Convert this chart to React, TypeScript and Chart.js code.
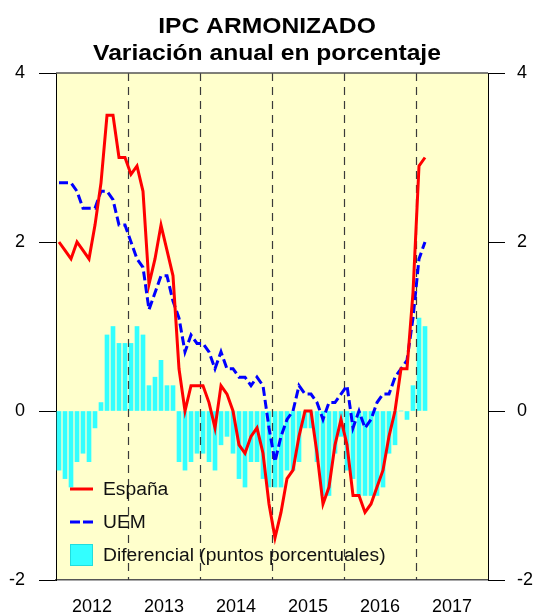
import React, { useEffect, useRef } from 'react';
import { Chart, registerables } from 'chart.js';

Chart.register(...registerables);

const years = ['2012', '2013', '2014', '2015', '2016', '2017'];

// Monthly values, Jan 2012 .. Feb 2017
const espana = [
  2.0, 1.9, 1.8, 2.0, 1.9, 1.8, 2.2, 2.7, 3.5, 3.5, 3.0, 3.0,
  2.8, 2.9, 2.6, 1.5, 1.8, 2.2, 1.9, 1.6, 0.5, 0.0, 0.3, 0.3,
  0.3, 0.1, -0.2, 0.3, 0.2, 0.0, -0.4, -0.5, -0.3, -0.2, -0.5, -1.1,
  -1.5, -1.2, -0.8, -0.7, -0.3, 0.0, 0.0, -0.5, -1.1, -0.9, -0.4, -0.1,
  -0.4, -1.0, -1.0, -1.2, -1.1, -0.9, -0.7, -0.3, 0.0, 0.5, 0.5, 1.4,
  2.9, 3.0,
];
const uem = [
  2.7, 2.7, 2.7, 2.6, 2.4, 2.4, 2.4, 2.6, 2.6, 2.5, 2.2, 2.2,
  2.0, 1.8, 1.7, 1.2, 1.4, 1.6, 1.6, 1.3, 1.1, 0.7, 0.9, 0.8,
  0.8, 0.7, 0.5, 0.7, 0.5, 0.5, 0.4, 0.4, 0.3, 0.4, 0.3, -0.2,
  -0.6, -0.3, -0.1, 0.0, 0.3, 0.2, 0.2, 0.1, -0.1, 0.1, 0.1, 0.2,
  0.3, -0.2, 0.0, -0.2, -0.1, 0.1, 0.2, 0.2, 0.4, 0.5, 0.6, 1.1,
  1.8, 2.0,
];
const diferencial = [
  -0.7, -0.8, -0.9, -0.6, -0.5, -0.6, -0.2, 0.1, 0.9, 1.0, 0.8, 0.8,
  0.8, 1.0, 0.9, 0.3, 0.4, 0.6, 0.3, 0.3, -0.6, -0.7, -0.6, -0.5,
  -0.5, -0.6, -0.7, -0.4, -0.3, -0.5, -0.8, -0.9, -0.6, -0.6, -0.8, -0.9,
  -0.9, -0.9, -0.7, -0.7, -0.6, -0.2, -0.2, -0.6, -1.0, -1.0, -0.5, -0.3,
  -0.7, -0.8, -1.0, -1.0, -1.0, -1.0, -0.9, -0.5, -0.4, 0.0, -0.1, 0.3,
  1.1, 1.0,
];
const yTicks = [-2, 0, 2, 4];
const titleLines = ['IPC ARMONIZADO', 'Variación anual en porcentaje'];
const legendLabels = ['España', 'UEM', 'Diferencial (puntos porcentuales)'];

const FONT = "'Liberation Sans', Arial, Helvetica, sans-serif";
const RED = '#ff0000';
const BLUE = '#0000ff';
const CYAN = '#33ffff';
const BG = '#ffffcc';

const decorPlugin = {
  id: 'decor',
  beforeDraw(chart: any) {
    const { ctx, chartArea } = chart;
    ctx.save();
    ctx.fillStyle = BG;
    ctx.fillRect(chartArea.left, chartArea.top, chartArea.right - chartArea.left, chartArea.bottom - chartArea.top);
    ctx.restore();
  },
  afterDatasetDraw(chart: any, args: any) {
    if (args.index !== 2) return;
    const { ctx, chartArea } = chart;
    const xs = chart.scales.x;
    ctx.save();
    ctx.strokeStyle = '#3a3a3a';
    ctx.lineWidth = 1.2;
    ctx.setLineDash([8, 6]);
    for (let k = 1; k < years.length; k++) {
      const px = Math.round(xs.getPixelForValue(k * 12)) + 0.5;
      ctx.beginPath();
      ctx.moveTo(px, chartArea.top);
      ctx.lineTo(px, chartArea.bottom);
      ctx.stroke();
    }
    ctx.restore();
  },
  afterDraw(chart: any) {
    const { ctx, chartArea } = chart;
    ctx.save();
    // top frame line
    ctx.strokeStyle = '#555555';
    ctx.lineWidth = 1.5;
    ctx.beginPath();
    ctx.moveTo(chartArea.left, chartArea.top);
    ctx.lineTo(chartArea.right, chartArea.top);
    ctx.stroke();

    // legend
    ctx.font = `18px ${FONT}`;
    ctx.textBaseline = 'middle';
    ctx.textAlign = 'left';
    const lx = 70;
    const lw = 23;
    const tx = 103;
    const rows = [489, 522, 555];
    ctx.lineWidth = 3;
    ctx.strokeStyle = RED;
    ctx.beginPath();
    ctx.moveTo(lx, rows[0]);
    ctx.lineTo(lx + lw, rows[0]);
    ctx.stroke();
    ctx.strokeStyle = BLUE;
    ctx.setLineDash([10, 3]);
    ctx.beginPath();
    ctx.moveTo(lx, rows[1]);
    ctx.lineTo(lx + lw, rows[1]);
    ctx.stroke();
    ctx.setLineDash([]);
    ctx.fillStyle = CYAN;
    ctx.fillRect(lx, rows[2] - 11, lw, 22);
    ctx.strokeStyle = '#22dddd';
    ctx.lineWidth = 1;
    ctx.strokeRect(lx + 0.5, rows[2] - 10.5, lw - 1, 21);
    ctx.fillStyle = '#111111';
    legendLabels.forEach((t, i) => {
      ctx.save();
      ctx.translate(tx, rows[i] + 1);
      ctx.scale(1.07, 1);
      ctx.fillText(t, 0, 0);
      ctx.restore();
    });

    // title
    ctx.fillStyle = '#000000';
    ctx.font = `bold 22px ${FONT}`;
    ctx.textAlign = 'center';
    ctx.textBaseline = 'alphabetic';
    const baselines = [33, 60];
    titleLines.forEach((t, i) => {
      ctx.save();
      ctx.translate(267, baselines[i]);
      ctx.scale(1.12, 1);
      ctx.fillText(t, 0, 0);
      ctx.restore();
    });
    ctx.restore();
  },
};

export default function App() {
  const ref = useRef<HTMLCanvasElement | null>(null);

  useEffect(() => {
    document.body.style.margin = '0';
    const canvas = ref.current;
    if (!canvas) return;
    const toXY = (arr: number[]) => arr.map((v, i) => ({ x: i + 0.5, y: v }));
    const yAxisCommon = {
      type: 'linear',
      min: yTicks[0],
      max: yTicks[yTicks.length - 1],
      afterBuildTicks: (axis: any) => {
        axis.ticks = yTicks.map((v) => ({ value: v }));
      },
      grid: {
        drawOnChartArea: false,
        drawTicks: true,
        tickLength: 17,
        color: '#000000',
        tickColor: '#000000',
        lineWidth: 1,
      },
      border: { display: true, color: '#000000', width: 1 },
    };
    const chart = new Chart(canvas, {
      type: 'bar',
      data: {
        datasets: [
          {
            type: 'line',
            label: legendLabels[0],
            data: toXY(espana),
            borderColor: RED,
            borderWidth: 3,
            pointRadius: 0,
            tension: 0,
            fill: false,
            order: 0,
          } as any,
          {
            type: 'line',
            label: legendLabels[1],
            data: toXY(uem),
            borderColor: BLUE,
            borderWidth: 3,
            borderDash: [9, 4],
            pointRadius: 0,
            tension: 0,
            fill: false,
            order: 1,
          } as any,
          {
            type: 'bar',
            label: legendLabels[2],
            data: toXY(diferencial),
            backgroundColor: CYAN,
            borderWidth: 0,
            barThickness: 4,
            order: 2,
          } as any,
        ],
      },
      options: {
        animation: false,
        responsive: false,
        events: [],
        layout: { padding: { top: 73, left: 0, right: 0, bottom: 0 } },
        plugins: {
          legend: { display: false },
          title: { display: false },
          tooltip: { enabled: false },
        },
        scales: {
          x: {
            type: 'linear',
            min: 0,
            max: years.length * 12,
            offset: false,
            afterBuildTicks: (axis: any) => {
              axis.ticks = years.map((_, i) => ({ value: i * 12 + 6 }));
            },
            afterFit: (scale: any) => {
              scale.height = 36;
            },
            ticks: {
              autoSkip: false,
              maxRotation: 0,
              padding: 16,
              color: '#000000',
              font: { size: 18, family: FONT },
              callback: (v: any) => years[Math.round((Number(v) - 6) / 12)] ?? '',
            },
            grid: { display: false, drawTicks: false },
            border: { display: true, color: '#555555', width: 1.5 },
          },
          y: {
            ...yAxisCommon,
            position: 'left',
            afterFit: (scale: any) => {
              scale.width = 56;
            },
            ticks: {
              padding: 14,
              color: '#000000',
              font: { size: 18, family: FONT },
            },
          },
          y2: {
            ...yAxisCommon,
            position: 'right',
            afterFit: (scale: any) => {
              scale.width = 49;
            },
            ticks: {
              padding: 12,
              color: '#000000',
              font: { size: 18, family: FONT },
            },
          },
        },
      } as any,
      plugins: [decorPlugin],
    });
    return () => chart.destroy();
  }, []);

  return (
    <canvas
      ref={ref}
      width={537}
      height={616}
      style={{ display: 'block', width: '537px', height: '616px' }}
    />
  );
}
